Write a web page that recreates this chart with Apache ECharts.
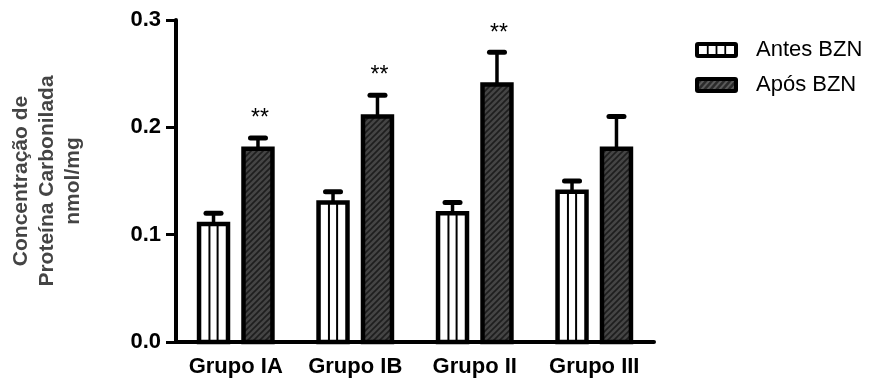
<!DOCTYPE html>
<html>
<head>
<meta charset="utf-8">
<script src="https://cdn.jsdelivr.net/npm/echarts@6/dist/echarts.min.js"></script>
<style>
html,body{margin:0;padding:0;background:#fff;}
#chart{width:877px;height:383px;}
</style>
</head>
<body>
<div id="chart"></div>
<script>
// ---- data ----
const categories = ['Grupo IA', 'Grupo IB', 'Grupo II', 'Grupo III'];
const antesValues = [0.11, 0.13, 0.12, 0.14];
const antesErrors = [0.01, 0.01, 0.01, 0.01];
const aposValues = [0.18, 0.21, 0.24, 0.18];
const aposErrors = [0.01, 0.02, 0.03, 0.03];
const aposSignif = ['**', '**', '**', ''];
const yTicks = [0.0, 0.1, 0.2, 0.3];
const seriesNames = ['Antes BZN', 'Após BZN'];
const yTitle = 'Concentração de\nProteína Carbonilada\nnmol/mg';

const FONT = '"Liberation Sans", Arial, Helvetica, sans-serif';

// ---- patterns / icons ----
function hatchCanvas() {
  const c = document.createElement('canvas');
  c.width = 6; c.height = 6;
  const g = c.getContext('2d');
  g.fillStyle = '#454545';
  g.fillRect(0, 0, 6, 6);
  g.strokeStyle = '#1e1e1e';
  g.lineWidth = 1.6;
  g.beginPath();
  g.moveTo(-1, 7); g.lineTo(7, -1);
  g.moveTo(-4, 4); g.lineTo(4, -4);
  g.moveTo(2, 10); g.lineTo(10, 2);
  g.stroke();
  return c;
}
const hatch = hatchCanvas();

function roundRect(g, x, y, w, h, r) {
  g.beginPath();
  g.moveTo(x + r, y);
  g.lineTo(x + w - r, y); g.quadraticCurveTo(x + w, y, x + w, y + r);
  g.lineTo(x + w, y + h - r); g.quadraticCurveTo(x + w, y + h, x + w - r, y + h);
  g.lineTo(x + r, y + h); g.quadraticCurveTo(x, y + h, x, y + h - r);
  g.lineTo(x, y + r); g.quadraticCurveTo(x, y, x + r, y);
  g.closePath();
}
function iconAntes() {
  const c = document.createElement('canvas');
  c.width = 43; c.height = 16;
  const g = c.getContext('2d');
  g.fillStyle = '#000'; roundRect(g, 0, 0, 43, 16, 3); g.fill();
  g.fillStyle = '#fff'; g.fillRect(4, 4, 35, 8);
  g.fillStyle = '#000';
  for (let i = 1; i < 4; i++) g.fillRect(4 + i * 35 / 4 - 0.9, 4, 1.8, 8);
  return c.toDataURL();
}
function iconApos() {
  const c = document.createElement('canvas');
  c.width = 43; c.height = 16;
  const g = c.getContext('2d');
  g.fillStyle = '#000'; roundRect(g, 0, 0, 43, 16, 3); g.fill();
  g.save();
  g.beginPath(); g.rect(4, 4, 35, 8); g.clip();
  g.fillStyle = '#2a2a2a'; g.fillRect(4, 4, 35, 8);
  g.strokeStyle = '#5a5a5a'; g.lineWidth = 2;
  g.beginPath();
  for (let x = -6; x < 50; x += 6) { g.moveTo(x, 13); g.lineTo(x + 9, 3); }
  g.stroke();
  g.restore();
  return c.toDataURL();
}

const BW = 4.5; // border width

function makeRender(side, signif) {
  return function (params, api) {
    const cat = api.value(0), val = api.value(1), err = api.value(2);
    const base = api.coord([cat, 0]);
    const top = api.coord([cat, val]);
    const errTop = api.coord([cat, val + err]);
    const band = api.size([1, 0])[0];
    const outerW = band * 0.28;
    const cx = base[0] + side * band * 0.186;
    const w = outerW - BW;
    const x0 = cx - w / 2;
    const h = base[1] - top[1];
    const children = [];
    children.push({
      type: 'line',
      shape: { x1: cx, y1: top[1], x2: cx, y2: errTop[1] },
      style: { stroke: '#000', lineWidth: 3.5 }
    });
    children.push({
      type: 'line',
      shape: { x1: cx - 7.5, y1: errTop[1], x2: cx + 7.5, y2: errTop[1] },
      style: { stroke: '#000', lineWidth: 5, lineCap: 'round' }
    });
    children.push({
      type: 'rect',
      shape: { x: x0, y: top[1], width: w, height: h },
      style: side < 0 ? { fill: '#fff' } : { fill: { image: hatch, repeat: 'repeat' } }
    });
    if (side < 0) {
      const innerL = x0 + BW / 2, innerW = w - BW;
      for (let i = 1; i < 3; i++) {
        const lx = innerL + innerW * i / 3;
        children.push({
          type: 'line',
          shape: { x1: lx, y1: top[1], x2: lx, y2: base[1] },
          style: { stroke: '#000', lineWidth: 2 }
        });
      }
    }
    children.push({
      type: 'rect',
      shape: { x: x0, y: top[1], width: w, height: h },
      style: { fill: null, stroke: '#000', lineWidth: BW }
    });
    const s = signif ? signif[params.dataIndex] : '';
    if (s) {
      children.push({
        type: 'text',
        style: {
          text: s, x: cx + 2, y: errTop[1] - 19,
          align: 'center', verticalAlign: 'middle',
          font: '23px ' + FONT, fill: '#000'
        }
      });
    }
    return { type: 'group', children: children };
  };
}

const antesData = categories.map((c, i) => [i, antesValues[i], antesErrors[i]]);
const aposData = categories.map((c, i) => [i, aposValues[i], aposErrors[i]]);

const chart = echarts.init(document.getElementById('chart'), null, { renderer: 'canvas' });
chart.setOption({
  animation: false,
  backgroundColor: '#fff',
  grid: { left: 170, right: 223, top: 20, bottom: 41, containLabel: false },
  legend: {
    left: 690, top: 34, orient: 'vertical',
    itemWidth: 43, itemHeight: 16, itemGap: 13,
    selectedMode: false,
    textStyle: { fontFamily: FONT, fontSize: 22, color: '#000', padding: [0, 0, 0, 13] },
    data: [
      { name: seriesNames[0], icon: 'image://' + iconAntes() },
      { name: seriesNames[1], icon: 'image://' + iconApos() }
    ]
  },
  xAxis: {
    type: 'category',
    data: categories,
    axisLine: { lineStyle: { color: '#000', width: 4 } },
    axisTick: { alignWithLabel: true, length: 10, lineStyle: { color: '#000', width: 3 } },
    axisLabel: { interval: 0, hideOverlap: false, color: '#000', fontWeight: 'bold', fontSize: 22, fontFamily: FONT, margin: 14 },
    splitLine: { show: false }
  },
  yAxis: {
    type: 'value',
    min: 0, max: 0.3, interval: 0.1,
    name: yTitle,
    nameLocation: 'middle',
    nameRotate: 90,
    nameGap: 90,
    nameTextStyle: { color: '#444', fontWeight: 'bold', fontSize: 21, lineHeight: 26, fontFamily: FONT },
    axisLine: { show: true, lineStyle: { color: '#000', width: 4 } },
    axisTick: { show: true, length: 10, lineStyle: { color: '#000', width: 3 } },
    axisLabel: {
      color: '#000', fontWeight: 'bold', fontSize: 22, margin: 15,
      fontFamily: FONT,
      formatter: v => { const t = yTicks.find(k => Math.abs(k - v) < 1e-9); return (t !== undefined ? t : v).toFixed(1); }
    },
    splitLine: { show: false }
  },
  series: [
    { name: seriesNames[0], type: 'custom', renderItem: makeRender(-1, null), encode: { x: 0, y: 1 }, data: antesData, itemStyle: { color: '#000' } },
    { name: seriesNames[1], type: 'custom', renderItem: makeRender(1, aposSignif), encode: { x: 0, y: 1 }, data: aposData, itemStyle: { color: '#333' } }
  ]
});
</script>
</body>
</html>
